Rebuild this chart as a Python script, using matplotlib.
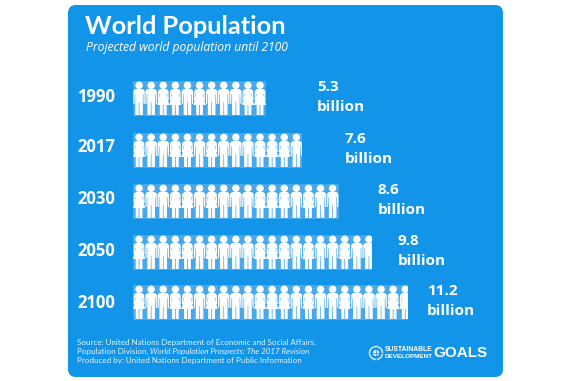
import matplotlib
matplotlib.use('Agg')
import matplotlib.pyplot as plt
from matplotlib.patches import FancyBboxPatch, Circle, Polygon

years = ['1990', '2017', '2030', '2050', '2100']
billions = ['5.3', '7.6', '8.6', '9.8', '11.2']
# people icons shown per row, the last ones get cut by the bar end
icons = [11, 14, 17, 19.75, 22.75]
genders = ['MMFFMFMMMFF',
           'FMMFFMFMMMFFFM',
           'FMMFFMFMMMFFFMFMM',
           'FMMFFMFMMMFFFMFMMFMM',
           'FMMFFMFMMMFFFMFMMFMMMFFM']

panel_col = '#1295E8'
bar_col = '#47A9EC'

bar_top = [81, 133, 184, 235, 285]
bar_h = 35
bar_x0 = 133
pitch = 12.1
label_x = [317, 345, 378, 398, 427]
year_y = [97.5, 147.5, 199.5, 250.5, 302.5]
head_font = ['Open Sans', 'DejaVu Sans']
title_font = ['Lato', 'Liberation Sans']
narrow = ['Liberation Sans']

fig, ax = plt.subplots(figsize=(5.72, 3.81), dpi=100)
fig.subplots_adjust(0, 0, 1, 1)
ax.set_xlim(0, 572)
ax.set_ylim(381, 0)
ax.axis('off')

# panel
ax.add_patch(FancyBboxPatch((68, 5), 435, 372, boxstyle='round,pad=0,rounding_size=8',
                            fc=panel_col, ec='none'))

ax.text(85, 26, 'World Population', fontsize=18.3, fontweight='bold', color='white',
        family=title_font, ha='left', va='center')
ax.text(85.5, 47, 'Projected world population until 2100', fontsize=8.75, style='italic',
        color='white', family=head_font, ha='left', va='center')

male = [(-3.8, 8), (3.8, 8), (5.7, 10), (5.7, 23), (4.6, 23), (4.3, 13), (3.8, 13),
        (3.8, 34), (0.4, 34), (0.3, 21), (-0.3, 21), (-0.4, 34), (-3.8, 34),
        (-3.8, 13), (-4.3, 13), (-4.6, 23), (-5.7, 23), (-5.7, 10)]
female = [(-3.2, 8), (3.2, 8), (5.2, 10), (5.5, 19), (4.6, 19), (4, 13), (3.3, 13),
          (6, 24), (3.4, 24), (3.4, 34), (0.4, 34), (0.4, 24), (-0.4, 24), (-0.4, 34),
          (-3.4, 34), (-3.4, 24), (-6, 24), (-3.3, 13), (-4, 13), (-4.6, 19),
          (-5.5, 19), (-5.2, 10)]

for i, year in enumerate(years):
    bar = ax.barh(bar_top[i] + bar_h / 2, icons[i] * pitch, height=bar_h, left=bar_x0,
                  color=bar_col, lw=0)[0]
    for k in range(int(icons[i]) + 1):
        if icons[i] - k <= 0:
            break
        cx = bar_x0 + pitch * (k + 0.5)
        shape = male if genders[i][k % len(genders[i])] == 'M' else female
        pts = [(cx + px, bar_top[i] + py) for px, py in shape]
        body = Polygon(pts, closed=True, fc='white', ec='none')
        head = Circle((cx, bar_top[i] + 4.3), 3.7, fc='white', ec='none')
        for p in (body, head):
            ax.add_patch(p)
            p.set_clip_path(bar)
    ax.text(77, year_y[i], year, fontsize=12, fontweight='bold', color='white',
            family=head_font, ha='left', va='center')
    ax.text(label_x[i], bar_top[i] + 6, billions[i], fontsize=11, fontweight='bold',
            color='white', family=head_font, ha='left', va='center')
    ax.text(label_x[i], bar_top[i] + 26, 'billion', fontsize=11, fontweight='bold',
            color='white', family=head_font, ha='left', va='center')

# source lines
foot = dict(fontsize=5.75, color='#E4F2FC', family=title_font, ha='left', va='center')
ax.text(77, 342, 'Source: United Nations Department of Economic and Social Affairs,', **foot)
t = ax.text(77, 351.5, 'Population Division,', **foot)
fig.canvas.draw()
bb = t.get_window_extent()
ax.text(bb.x1 + 1.5, 351.5, 'World Population Prospects: The 2017 Revision', style='italic', **foot)
ax.text(77, 361, 'Produced by: United Nations Department of Public Information', **foot)

# logo
ax.add_patch(Circle((376, 353), 6.5, fc='none', ec='#DCEFFB', lw=1))
ax.add_patch(Circle((376, 353), 3.2, fc='#DCEFFB', ec='none'))
ax.plot([369.5, 382.5], [353, 353], color=panel_col, lw=0.5)
ax.plot([376, 376], [346.5, 359.5], color=panel_col, lw=0.5)
ax.text(385, 349.5, 'SUSTAINABLE', fontsize=4.9, fontweight='bold', color='white',
        family=narrow, ha='left', va='center')
ax.text(385, 356, 'DEVELOPMENT', fontsize=4.6, fontweight='bold', color='white',
        family=narrow, ha='left', va='center')
ax.text(433.5, 353, 'GOALS', fontsize=11, fontweight='bold', color='white',
        family=narrow, ha='left', va='center')

fig.savefig('out.png', dpi=100, facecolor='white')
